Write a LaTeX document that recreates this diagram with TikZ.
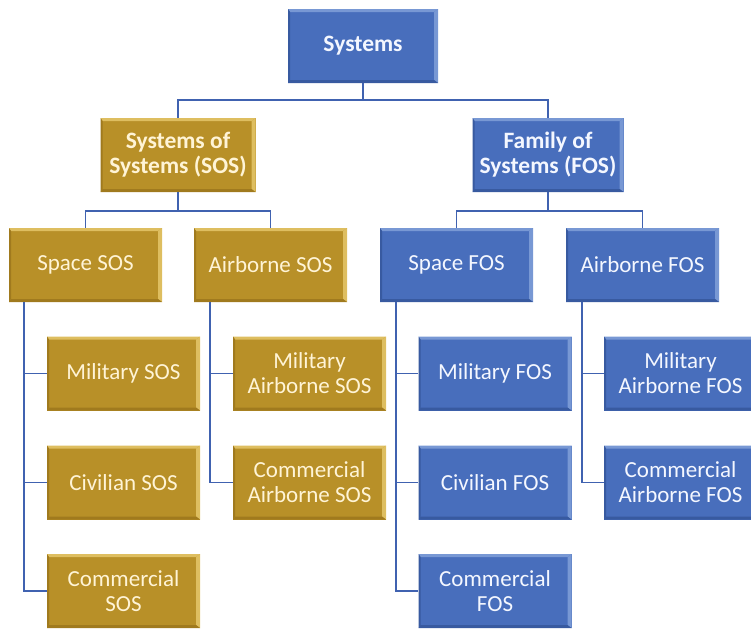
\documentclass[tikz,border=0pt]{standalone}
\usepackage{fontspec}
\setmainfont{Carlito}
\definecolor{goldfill}{RGB}{184,144,40}
\definecolor{goldlight}{RGB}{222,190,96}
\definecolor{golddark}{RGB}{160,122,30}
\definecolor{goldtext}{RGB}{255,244,214}
\definecolor{bluefill}{RGB}{72,110,188}
\definecolor{bluelight}{RGB}{120,152,212}
\definecolor{bluedark}{RGB}{56,90,160}
\definecolor{bluetext}{RGB}{244,247,255}
\definecolor{linkcol}{RGB}{64,98,176}
\tikzset{
  bevelbox/.style n args={3}{
    rectangle, inner sep=0pt, minimum width=153pt, minimum height=74pt,
    align=center, font=\fontsize{23}{25}\selectfont,
    fill=#1,
    path picture={
      % lighter top and right edges, darker bottom and left edges
      \fill[#2] (path picture bounding box.north west) -- (path picture bounding box.north east)
        -- ([xshift=-4pt,yshift=-3pt]path picture bounding box.north east)
        -- ([xshift=2pt,yshift=-3pt]path picture bounding box.north west) -- cycle;
      \fill[#2] (path picture bounding box.north east) -- (path picture bounding box.south east)
        -- ([xshift=-4pt,yshift=3pt]path picture bounding box.south east)
        -- ([xshift=-4pt,yshift=-3pt]path picture bounding box.north east) -- cycle;
      \fill[#3] (path picture bounding box.south west) -- (path picture bounding box.south east)
        -- ([xshift=-4pt,yshift=3pt]path picture bounding box.south east)
        -- ([xshift=2pt,yshift=3pt]path picture bounding box.south west) -- cycle;
      \fill[#3] (path picture bounding box.north west) -- (path picture bounding box.south west)
        -- ([xshift=2pt,yshift=3pt]path picture bounding box.south west)
        -- ([xshift=2pt,yshift=-3pt]path picture bounding box.north west) -- cycle;
    }},
  goldbox/.style={bevelbox={goldfill}{goldlight}{golddark}, text=goldtext},
  bluebox/.style={bevelbox={bluefill}{bluelight}{bluedark}, text=bluetext},
  headbox/.style={font=\fontsize{23.5}{25}\selectfont\bfseries},
  conn/.style={draw=linkcol, line width=1.6pt}
}
\begin{document}
\begin{tikzpicture}[x=1pt,y=-1pt]
\useasboundingbox (0,0) rectangle (751,629);
\begin{scope}
\clip (0,0) rectangle (751,629);
% bus points of the first two levels
\coordinate (busA) at (363,100);
\coordinate (busB) at (178,211);
\coordinate (busC) at (548,211);

\node[bluebox,headbox,minimum width=150pt] (sys) at (363,46) {Systems};
\node[goldbox,headbox,minimum width=155pt] (sos) at (178,155) {Systems of\\Systems (SOS)};
\node[bluebox,headbox,minimum width=151pt] (fos) at (548,155) {Family of\\Systems (FOS)};

\node[goldbox] (spsos) at (85.5,265) {Space SOS};
\node[goldbox] (airsos) at (270.5,265) {Airborne SOS};
\node[bluebox] (spfos) at (456.5,265) {Space FOS};
\node[bluebox] (airfos) at (642.5,265) {Airborne FOS};

\node[goldbox] (milsos) at (123.5,373.5) {Military SOS};
\node[goldbox] (civsos) at (123.5,482.5) {Civilian SOS};
\node[goldbox] (comsos) at (123.5,591) {Commercial\\SOS};

\node[goldbox] (milair) at (309.5,373.5) {Military\\Airborne SOS};
\node[goldbox] (comair) at (309.5,482.5) {Commercial\\Airborne SOS};

\node[bluebox] (milfos) at (495,373.5) {Military FOS};
\node[bluebox] (civfos) at (495,482.5) {Civilian FOS};
\node[bluebox] (comfos) at (495,591) {Commercial\\FOS};

\node[bluebox] (milafos) at (680.5,373.5) {Military\\Airborne FOS};
\node[bluebox] (comafos) at (680.5,482.5) {Commercial\\Airborne FOS};
\end{scope}

% tree connectors
\begin{scope}[conn]
\draw (sys.south) -- (busA);
\draw (sos.north) |- (busA) -| (fos.north);
\draw (sos.south) -- (busB);
\draw (spsos.north) |- (busB) -| (airsos.north);
\draw (fos.south) -- (busC);
\draw (spfos.north) |- (busC) -| (airfos.north);

\draw ([xshift=15pt]spsos.south west) |- (milsos.west);
\draw ([xshift=15pt]spsos.south west) |- (civsos.west);
\draw ([xshift=15pt]spsos.south west) |- (comsos.west);

\draw ([xshift=16pt]airsos.south west) |- (milair.west);
\draw ([xshift=16pt]airsos.south west) |- (comair.west);

\draw ([xshift=16pt]spfos.south west) |- (milfos.west);
\draw ([xshift=16pt]spfos.south west) |- (civfos.west);
\draw ([xshift=16pt]spfos.south west) |- (comfos.west);

\draw ([xshift=16pt]airfos.south west) |- (milafos.west);
\draw ([xshift=16pt]airfos.south west) |- (comafos.west);
\end{scope}
\end{tikzpicture}
\end{document}
